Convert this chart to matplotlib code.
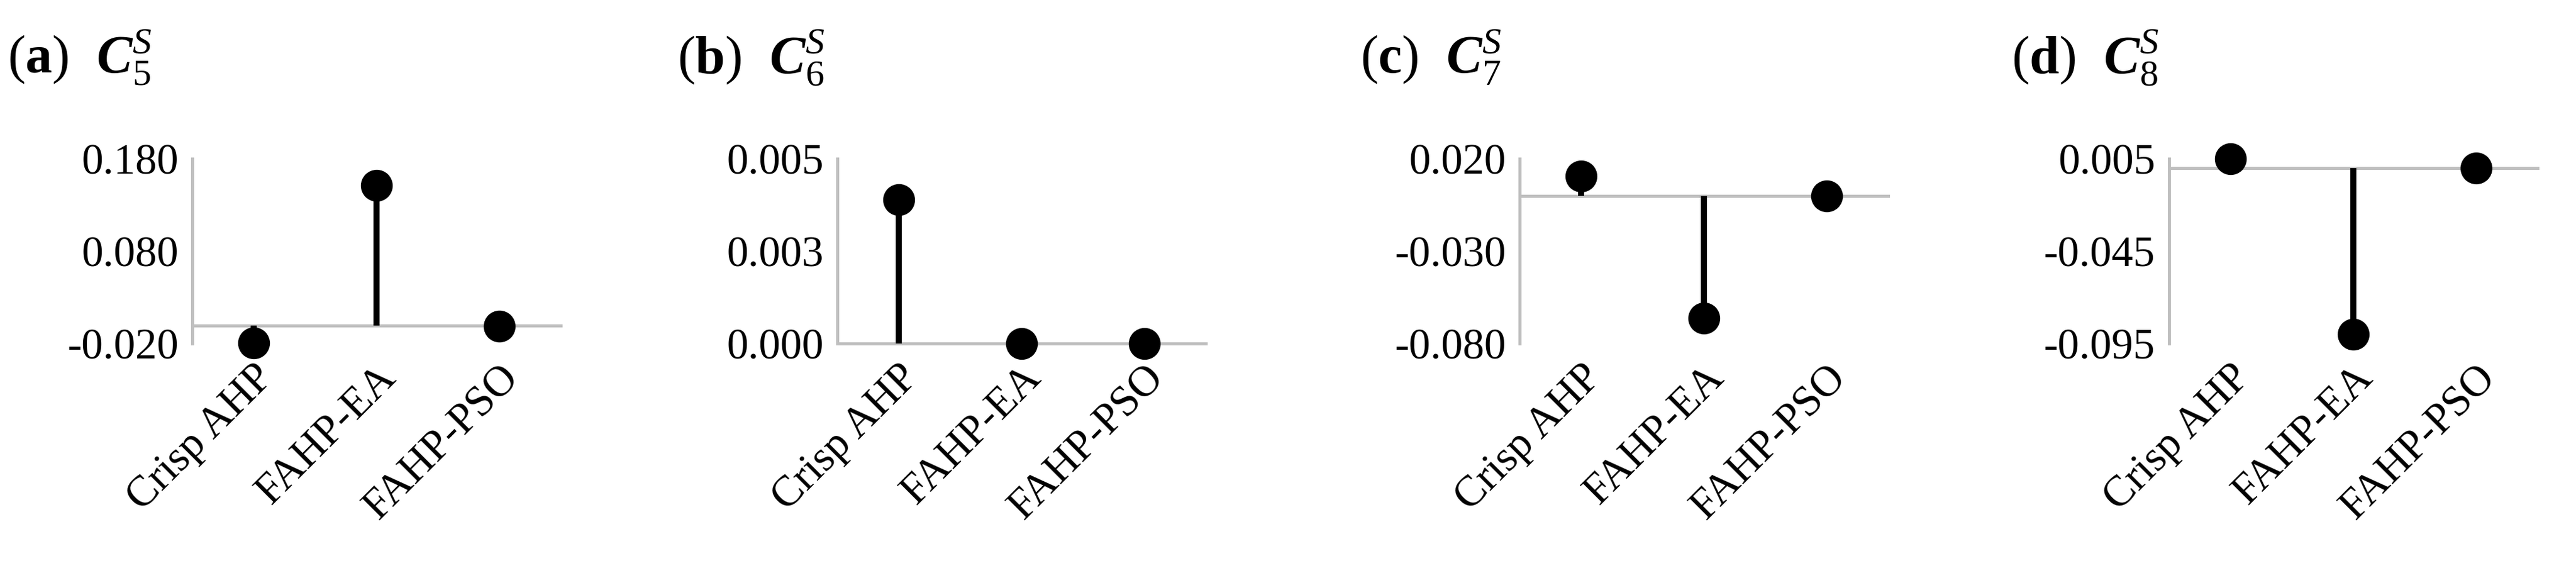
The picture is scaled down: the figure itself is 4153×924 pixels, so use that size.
import matplotlib
matplotlib.use("Agg")
import matplotlib.pyplot as plt

categories = ["Crisp AHP", "FAHP-EA", "FAHP-PSO"]
panel_labels = ["(a)", "(b)", "(c)", "(d)"]
subscripts = ["5", "6", "7", "8"]
values_a = [-0.019, 0.151, -0.001]
values_b = [0.0039, 0.0, 0.0]
values_c = [0.0106, -0.066, 0.0]
values_d = [0.005, -0.090, 0.0]
ticks_a = [-0.02, 0.08, 0.18]
ticks_b = [0.0, 0.0025, 0.005]
ticks_c = [-0.08, -0.03, 0.02]
ticks_d = [-0.095, -0.045, 0.005]
tick_labels_a = ["-0.020", "0.080", "0.180"]
tick_labels_b = ["0.000", "0.003", "0.005"]
tick_labels_c = ["-0.080", "-0.030", "0.020"]
tick_labels_d = ["-0.095", "-0.045", "0.005"]

plt.rcParams['font.family'] = ['Liberation Serif', 'DejaVu Serif']
plt.rcParams['mathtext.fontset'] = 'custom'
plt.rcParams['mathtext.rm'] = 'Liberation Serif'
plt.rcParams['mathtext.it'] = 'Liberation Serif:italic'
plt.rcParams['mathtext.bf'] = 'Liberation Serif:bold'
plt.rcParams['mathtext.bfit'] = 'Liberation Serif:bold:italic'

fig = plt.figure(figsize=(41.53, 9.24), dpi=100)
lefts = [0.0746, 0.325, 0.590, 0.842]
title_x = [0.003, 0.263, 0.528, 0.781]
datas = [values_a, values_b, values_c, values_d]
ticks = [ticks_a, ticks_b, ticks_c, ticks_d]
tlabels = [tick_labels_a, tick_labels_b, tick_labels_c, tick_labels_d]
gray = "#bfbfbf"
for i in range(4):
    ax = fig.add_axes([lefts[i], 0.40, 0.143, 0.323])
    vals = datas[i]
    x = range(len(categories))
    ax.axhline(0, color=gray, lw=3.6, zorder=1)
    ax.vlines(x, 0, vals, color="black", lw=7, zorder=2)
    ax.plot(x, vals, "o", color="black", ms=36, zorder=3)
    ax.set_xlim(-0.5, 2.5)
    ax.set_ylim(ticks[i][0], ticks[i][-1])
    ax.set_yticks(ticks[i])
    ax.set_yticklabels(tlabels[i], fontsize=50)
    ax.set_xticks(list(x))
    ax.set_xticklabels(categories, fontsize=50, rotation=45, ha="right", rotation_mode="anchor")
    ax.tick_params(length=0, pad=16)
    for s in ["top", "right", "bottom"]:
        ax.spines[s].set_visible(False)
    ax.spines["left"].set_color(gray)
    ax.spines["left"].set_linewidth(3.6)
    ax.set_facecolor("none")
    for art in ax.lines + ax.collections:
        art.set_clip_on(False)
    fig.text(title_x[i], 0.9, panel_labels[i].replace(panel_labels[i][1], r"$\mathbf{%s}$" % panel_labels[i][1]) + r"  $\mathbfit{C}_{%s}^{S}$" % subscripts[i],
             fontsize=62, va="center", ha="left")

fig.savefig("out.png", dpi=100)
